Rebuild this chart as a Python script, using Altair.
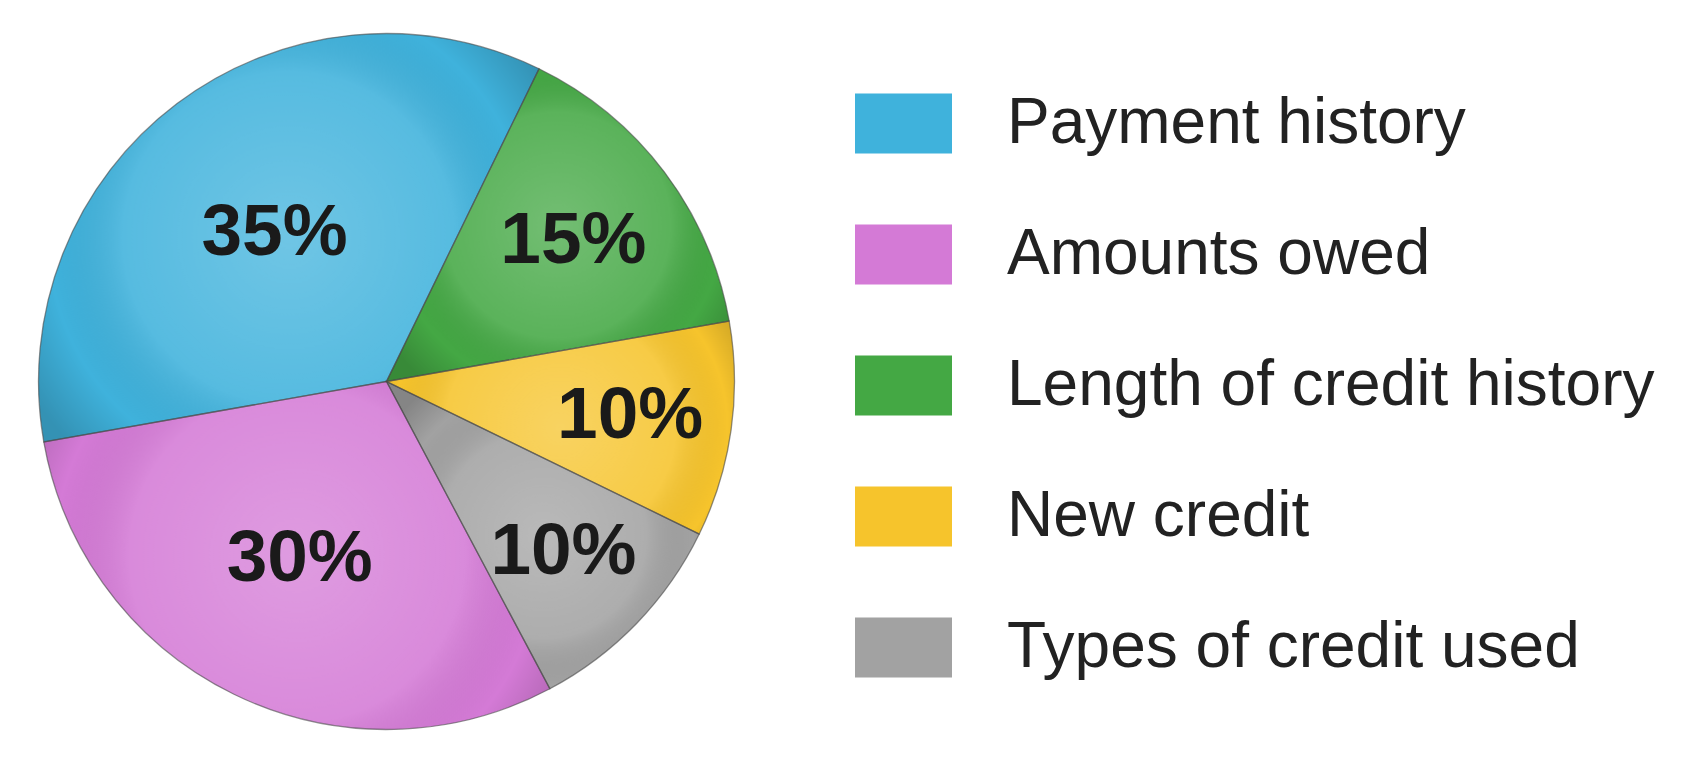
import math
import altair as alt
import pandas as pd

categories = ["Payment history", "Amounts owed", "Length of credit history", "New credit", "Types of credit used"]
values = [35, 30, 15, 10, 10]
pie_order = [0, 4, 1, 2, 3]
colors = ["#3fb2dc", "#d47ad6", "#44a844", "#f6c42c", "#a2a2a2"]

df = pd.DataFrame({"category": categories, "value": values, "ord": pie_order})

start = math.radians(260)
theta_scale = alt.Scale(range=[start, start + 2 * math.pi])

base = alt.Chart(df).transform_calculate(
    label="datum.value + '%'",
).encode(
    theta=alt.Theta("value:Q", stack=True, scale=theta_scale),
    order=alt.Order("ord:Q"),
    detail="category:N",
)

pie = base.mark_arc(outerRadius=348, strokeWidth=0).encode(
    color=alt.Color(
        "category:N",
        scale=alt.Scale(domain=categories, range=colors),
        legend=alt.Legend(
            title=None,
            orient="none",
            legendX=847,
            legendY=67,
            symbolType="M-1,-0.62H1V0.62H-1Z",
            symbolSize=9409,
            symbolStrokeWidth=0,
            symbolOpacity=1,
            labelFontSize=64,
            labelFont="Liberation Sans",
            labelColor="#222222",
            labelOffset=55,
            labelLimit=0,
            rowPadding=50,
        ),
    )
)

shade = base.mark_arc(
    outerRadius=348,
    stroke="#4a4a4a",
    strokeWidth=1.3,
    strokeOpacity=0.6,
    fill={
        "gradient": "radial",
        "x1": 0.5, "y1": 0.5, "r1": 0,
        "x2": 0.5, "y2": 0.5, "r2": 0.6,
        "stops": [
            {"offset": 0, "color": "rgba(255,255,255,0.25)"},
            {"offset": 0.55, "color": "rgba(255,255,255,0.12)"},
            {"offset": 0.8, "color": "rgba(0,0,0,0.0)"},
            {"offset": 1, "color": "rgba(0,0,0,0.18)"},
        ],
    },
)

labels = base.mark_text(
    font="Liberation Sans", fontWeight="bold", fontSize=73, color="#1a1a1a", baseline="middle", align="center",
    radius=alt.expr("270 - 2.4 * datum.value"),
).encode(
    text="label:N",
)

chart = (pie + shade + labels).properties(width=757, height=747, padding=0).configure_view(strokeWidth=0)

chart.save("out.html", embed_options={"renderer": "svg", "actions": False})
